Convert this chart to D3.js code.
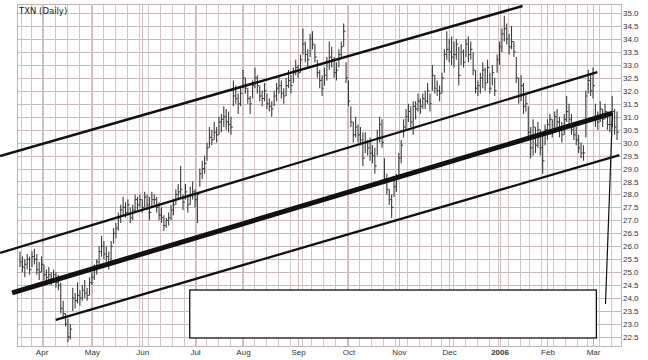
<!DOCTYPE html>
<html>
<head>
<meta charset="utf-8">
<script src="https://cdn.jsdelivr.net/npm/d3@7"></script>
<style>
  body { margin: 0; background: #fff; }
  svg { display: block; font-family: "DejaVu Sans", Verdana, sans-serif; }
</style>
</head>
<body>
<svg width="648" height="360"></svg>
<script>
// ---- data ----
const title = 'TXN (Daily)';
const startDate = '2005-03-18';
const holidays = ['2005-03-25', '2005-05-30', '2005-07-04', '2005-09-05', '2005-11-24',
                  '2005-12-26', '2006-01-02', '2006-01-16', '2006-02-20'];
const monthLabels = ['Apr', 'May', 'Jun', 'Jul', 'Aug', 'Sep', 'Oct', 'Nov', 'Dec', '2006', 'Feb', 'Mar'];
const priceTicks = [22.5, 23, 23.5, 24, 24.5, 25, 25.5, 26, 26.5, 27, 27.5, 28, 28.5,
                    29, 29.5, 30, 30.5, 31, 31.5, 32, 32.5, 33, 33.5, 34, 34.5, 35];

const highs = [
  25.8,25.6,25.5,25.7,25.6,25.8,25.9,25.7,25.4,25.6,
  25.3,25.1,25.2,25.0,25.1,25.0,24.9,24.6,23.9,23.4,
  23.2,23.0,24.4,24.2,24.6,24.3,24.5,24.7,24.4,24.8,
  25.0,25.3,25.5,26.0,26.4,26.2,26.0,25.8,26.2,26.7,
  26.9,27.3,27.6,27.9,27.7,27.8,27.5,27.6,28.0,27.9,
  28.0,27.8,28.1,28.0,27.9,28.1,28.0,27.9,27.7,27.5,
  27.2,27.1,27.3,27.6,27.8,28.2,28.4,29.1,28.0,28.4,
  28.0,28.3,28.5,28.2,28.1,29.0,29.3,29.5,30.0,30.6,
  30.5,30.8,30.6,31.0,31.1,31.4,31.3,31.2,31.0,32.4,
  32.2,31.9,32.1,32.8,32.5,32.1,31.8,32.4,32.9,32.6,
  32.2,32.0,32.3,31.9,31.7,31.6,32.0,32.3,32.6,32.4,
  32.1,32.5,32.8,32.6,32.9,33.2,33.0,33.4,34.4,33.9,
  33.6,34.2,34.3,33.8,33.2,32.8,32.6,32.9,33.3,33.9,
  33.7,33.3,33.1,33.6,33.9,34.6,33.1,32.4,31.4,30.8,
  31.0,30.7,30.6,30.4,30.4,30.1,30.2,29.9,29.8,30.5,
  31.0,30.9,29.4,28.8,28.2,28.0,28.6,28.8,29.6,30.1,
  30.9,31.3,31.5,31.4,31.6,31.6,31.9,31.7,31.9,32.0,
  32.3,31.9,33.0,32.6,32.4,32.2,32.7,33.6,34.3,34.0,
  34.1,33.9,34.0,33.7,33.8,33.6,34.0,34.1,33.9,33.5,
  32.8,32.4,32.7,33.1,32.9,33.2,32.7,33.0,32.5,33.4,
  33.9,34.4,34.9,34.6,34.2,34.5,33.9,33.3,32.5,32.6,
  32.3,31.9,31.4,30.6,30.9,30.6,30.8,30.5,30.3,30.7,
  30.9,31.1,30.9,31.2,31.3,31.0,30.8,31.1,31.8,31.5,
  31.1,30.8,30.6,30.3,30.0,29.9,32.0,32.8,32.6,32.9,
  31.5,31.2,31.6,31.3,31.5,31.2,31.0,31.8,31.3,31.2
];
const lows = [
  25.2,25.0,24.8,25.1,24.9,25.2,25.3,24.9,24.7,25.0,
  24.7,24.5,24.7,24.5,24.6,24.4,24.3,23.4,23.2,22.9,
  22.3,22.4,23.5,23.6,23.8,23.7,23.9,24.0,23.9,24.1,
  24.5,24.7,24.9,25.3,25.6,25.5,25.4,25.1,25.4,26.1,
  26.3,26.6,26.9,27.2,27.1,27.2,26.9,27.0,27.3,27.4,
  27.5,27.3,27.5,27.4,27.0,27.5,27.6,27.3,27.0,26.9,
  26.6,26.7,26.8,27.0,27.2,27.6,27.8,27.9,27.4,27.8,
  27.3,27.6,27.8,27.5,26.9,28.3,28.6,28.8,29.3,29.8,
  29.9,30.1,30.0,30.3,30.4,30.6,30.5,30.4,30.3,31.4,
  31.5,31.1,31.4,32.1,31.9,31.5,31.1,31.7,32.1,31.9,
  31.6,31.4,31.6,31.3,31.2,31.0,31.4,31.6,31.9,31.7,
  31.5,31.8,32.1,31.9,32.3,32.6,32.5,32.7,33.4,33.1,
  32.9,33.3,33.6,33.1,32.5,32.1,31.8,32.2,32.4,32.8,
  32.9,32.5,32.4,32.9,33.3,33.7,32.3,31.4,30.6,30.0,
  30.2,30.0,29.9,29.1,29.6,29.5,29.3,29.2,28.8,29.5,
  30.0,29.8,28.4,28.0,27.6,27.1,27.9,28.1,28.6,29.2,
  30.2,30.5,30.8,30.6,30.3,30.9,31.2,31.1,31.3,31.3,
  31.5,31.2,32.0,31.9,31.8,31.6,31.9,32.7,33.2,33.1,
  33.0,32.9,33.2,32.2,33.0,32.9,33.3,33.1,33.2,32.6,
  31.9,31.8,31.9,32.1,32.0,32.3,31.9,32.2,31.8,32.7,
  33.0,33.5,33.9,33.8,33.4,33.6,33.3,32.3,31.5,31.6,
  31.1,31.2,30.2,29.4,29.5,29.6,29.8,29.5,28.8,29.9,
  30.1,30.3,30.2,30.4,30.5,30.2,30.0,30.3,30.8,30.6,
  30.3,30.1,29.9,29.6,29.4,29.3,30.2,31.9,31.8,31.7,
  30.6,30.5,30.8,30.6,30.9,30.5,30.4,30.6,30.3,30.1
];
const closes = [
  25.4,25.2,25.3,25.5,25.1,25.6,25.5,25.1,25.0,25.3,
  24.9,24.8,24.9,24.7,24.9,24.6,24.5,23.6,23.4,23.0,
  22.5,22.8,24.0,23.9,24.1,24.0,24.3,24.2,24.1,24.6,
  24.8,25.1,25.4,25.8,26.0,25.7,25.6,25.3,26.0,26.5,
  26.7,27.1,27.4,27.5,27.3,27.6,27.1,27.4,27.8,27.6,
  27.8,27.5,27.9,27.6,27.3,27.8,27.8,27.5,27.2,27.1,
  26.8,27.0,27.1,27.4,27.6,28.0,28.1,28.2,27.7,28.1,
  27.6,28.0,28.1,27.8,28.0,28.8,29.0,29.2,29.8,30.2,
  30.1,30.4,30.3,30.8,30.9,31.0,30.8,30.7,30.6,31.8,
  31.7,31.5,31.9,32.5,32.1,31.7,31.5,32.2,32.5,32.2,
  31.8,31.7,32.0,31.5,31.4,31.3,31.8,32.1,32.2,31.9,
  31.8,32.2,32.4,32.2,32.7,32.9,32.7,33.2,33.8,33.4,
  33.2,34.0,33.8,33.3,32.7,32.4,32.1,32.6,33.1,33.3,
  33.2,32.7,32.8,33.4,33.7,34.3,32.5,31.6,30.8,30.3,
  30.6,30.3,30.1,29.4,30.0,29.8,29.6,29.5,29.1,30.2,
  30.7,30.0,28.6,28.2,27.8,27.5,28.3,28.6,29.4,29.9,
  30.6,31.0,31.2,30.8,31.4,31.3,31.6,31.4,31.7,31.6,
  32.0,31.5,32.6,32.1,32.0,31.9,32.5,33.4,33.6,33.5,
  33.3,33.4,33.8,32.6,33.5,33.1,33.8,33.4,33.6,32.8,
  32.1,32.2,32.5,32.8,32.3,32.9,32.1,32.7,32.0,33.2,
  33.7,34.2,34.4,34.0,33.7,33.9,33.5,32.5,31.8,32.2,
  31.4,31.5,30.4,29.8,30.6,29.9,30.5,29.8,29.3,30.5,
  30.7,30.9,30.5,31.0,30.8,30.5,30.3,30.9,31.2,30.9,
  30.5,30.3,30.1,29.8,29.6,29.6,31.8,32.4,32.0,32.2,
  30.9,30.8,31.3,30.9,31.2,30.7,30.7,31.2,30.6,30.4
];

// drawn lines, as [bar index, price] end points
const channelTop    = [[-8.3, 29.48], [209.6, 35.27]];
const channelUpper  = [[-8.3, 25.74], [240.8, 32.72]];
const regression    = [[-3.3, 24.20], [247.1, 31.14]];
const channelLower  = [[14.9, 23.16], [250.0, 29.52]];
const dropLine      = [[247.1, 31.14], [244.2, 23.77]];
const maskBox       = [[70.8, 24.31], [240.4, 22.46]];

// ---- trading calendar ----
const parse = d3.utcParse('%Y-%m-%d');
const fmt = d3.utcFormat('%Y-%m-%d');
const dates = [];
for (let d = parse(startDate); dates.length < highs.length; d = d3.utcDay.offset(d, 1)) {
  const wd = d.getUTCDay();
  if (wd === 0 || wd === 6 || holidays.includes(fmt(d))) continue;
  dates.push(d);
}
const bars = dates.map((d, i) => ({ i, date: d, high: highs[i], low: lows[i], close: closes[i] }));

// ---- chart ----
const svg = d3.select('svg');
const plot = { left: 17, right: 621, top: 4, bottom: 346 };

const x = d3.scaleLinear().domain([0, bars.length - 1]).range([20, 617]);
const y = d3.scaleLinear().domain([22.15, 35.35]).range([plot.bottom, plot.top]);
const step = x(1) - x(0);

const grid = svg.append('g');
// horizontal grid
grid.selectAll('line.h').data(priceTicks).join('line')
  .attr('x1', plot.left).attr('x2', plot.right)
  .attr('y1', d => Math.round(y(d)) + 0.5).attr('y2', d => Math.round(y(d)) + 0.5)
  .attr('stroke', '#cbb9b9').attr('stroke-width', 1);

// weekly grid, a little darker on month starts
const monthStarts = bars.filter((b, i) => i > 0 && b.date.getUTCMonth() !== bars[i - 1].date.getUTCMonth()).map(b => b.i);
const weekStarts = bars.filter((b, i) => i > 0 && b.date.getUTCDay() < bars[i - 1].date.getUTCDay()).map(b => b.i);
grid.selectAll('line.w').data(weekStarts).join('line')
  .attr('x1', d => Math.round(x(d) - step / 2) + 0.5).attr('x2', d => Math.round(x(d) - step / 2) + 0.5)
  .attr('y1', plot.top).attr('y2', plot.bottom)
  .attr('stroke', '#d3c5c5').attr('stroke-width', 1);
grid.selectAll('line.m').data(monthStarts).join('line')
  .attr('x1', d => Math.round(x(d)) + 0.5).attr('x2', d => Math.round(x(d)) + 0.5)
  .attr('y1', plot.top).attr('y2', plot.bottom)
  .attr('stroke', '#cbb9b9').attr('stroke-width', 1);

// frame
svg.append('rect')
  .attr('x', plot.left + 0.5).attr('y', plot.top + 0.5)
  .attr('width', plot.right - plot.left).attr('height', plot.bottom - plot.top)
  .attr('fill', 'none').attr('stroke', '#c3b2b2');

// price bars
const barG = svg.append('g').attr('stroke', '#3c3c3c').attr('stroke-width', 1.1);
barG.selectAll('line.hl').data(bars).join('line')
  .attr('x1', d => x(d.i)).attr('x2', d => x(d.i))
  .attr('y1', d => y(d.high)).attr('y2', d => y(d.low));
barG.selectAll('line.c').data(bars).join('line')
  .attr('x1', d => x(d.i)).attr('x2', d => x(d.i) + 1.8)
  .attr('y1', d => y(d.close)).attr('y2', d => y(d.close));

// channel lines
const line = d3.line().x(d => x(d[0])).y(d => y(d[1]));
const lines = [
  [channelTop, 2.5], [channelUpper, 2.3], [regression, 5], [channelLower, 2.3], [dropLine, 1.2]
];
svg.append('g').selectAll('path').data(lines).join('path')
  .attr('d', d => line(d[0]))
  .attr('fill', 'none').attr('stroke', '#111').attr('stroke-width', d => d[1]);

// white box
svg.append('rect')
  .attr('x', x(maskBox[0][0])).attr('y', y(maskBox[0][1]))
  .attr('width', x(maskBox[1][0]) - x(maskBox[0][0]))
  .attr('height', y(maskBox[1][1]) - y(maskBox[0][1]))
  .attr('fill', '#fff').attr('stroke', '#111').attr('stroke-width', 1.3);

// axes
const xAxis = d3.axisBottom(x).tickValues(monthStarts)
  .tickFormat((d, k) => monthLabels[k]).tickSize(0).tickPadding(3);
const gx = svg.append('g').attr('transform', `translate(0,${plot.bottom})`).call(xAxis);
gx.select('.domain').remove();
gx.selectAll('text').attr('font-size', 8).attr('fill', '#333')
  .attr('font-weight', (d, k) => monthLabels[k] === '2006' ? 'bold' : 'normal');

const yAxis = d3.axisRight(y).tickValues(priceTicks).tickFormat(d3.format('.1f')).tickSize(0).tickPadding(2);
const gy = svg.append('g').attr('transform', `translate(${plot.right},0)`).call(yAxis);
gy.select('.domain').remove();
gy.selectAll('text').attr('font-size', 8).attr('fill', '#333');

// title
svg.append('text').attr('x', 19).attr('y', 14).attr('font-size', 8.5).attr('fill', '#222').text(title);
</script>
</body>
</html>
